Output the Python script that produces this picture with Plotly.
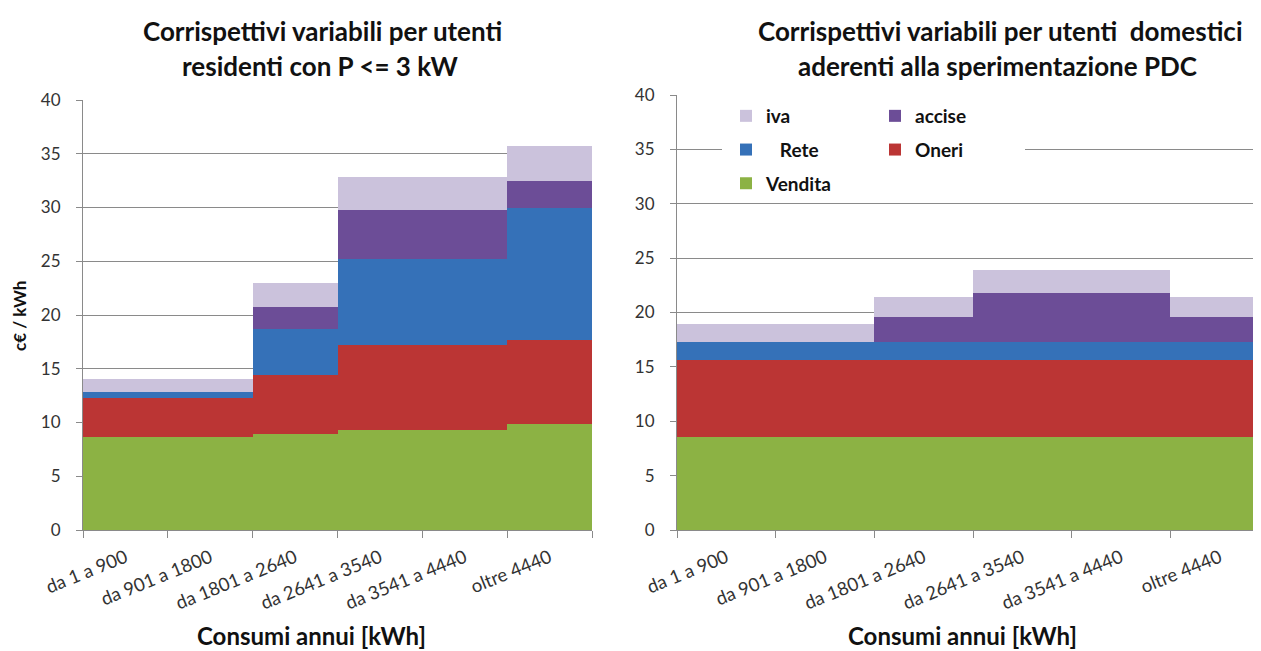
import plotly.graph_objects as go

categories = ["da 1 a 900", "da 901 a 1800", "da 1801 a 2640",
              "da 2641 a 3540", "da 3541 a 4440", "oltre 4440"]

# Left chart: residenti con P <= 3 kW  (c€/kWh)
left_vendita = [8.66, 8.66, 8.94, 9.34, 9.34, 9.83]
left_oneri   = [3.63, 3.63, 5.44, 7.83, 7.83, 7.80]
left_rete    = [0.55, 0.55, 4.28, 8.08, 8.08, 12.34]
left_accise  = [0.00, 0.00, 2.12, 4.53, 4.53, 2.49]
left_iva     = [1.22, 1.22, 2.22, 3.08, 3.08, 3.23]

# Right chart: sperimentazione PDC  (c€/kWh)
right_vendita = [8.57, 8.57, 8.57, 8.57, 8.57, 8.57]
right_oneri   = [7.10, 7.10, 7.10, 7.10, 7.10, 7.10]
right_rete    = [1.58, 1.58, 1.58, 1.58, 1.58, 1.58]
right_accise  = [0.00, 0.00, 2.31, 4.51, 4.51, 2.31]
right_iva     = [1.72, 1.72, 1.90, 2.18, 2.18, 1.90]

series_names = ["Vendita", "Oneri", "\u00a0\u00a0\u00a0Rete", "accise", "iva"]
series_colors = ["#8cb244", "#bb3534", "#3571b8", "#6c4d97", "#cbc2dc"]
series_legend = ["legend", "legend2", "legend", "legend2", "legend"]
series_rank = [3, 2, 2, 1, 1]

W, H = 1261, 651
OFF = 8  # page body margin offset of the rendered figure
FONT = "Lato, 'Open Sans', sans-serif"
GRID = "#8a8a8a"

fig = go.Figure()

left_vals = [left_vendita, left_oneri, left_rete, left_accise, left_iva]
right_vals = [right_vendita, right_oneri, right_rete, right_accise, right_iva]

for name, color, vals in zip(series_names, series_colors, left_vals):
    fig.add_trace(go.Bar(x=categories, y=vals, name=name, marker_color=color,
                         marker_line_width=0, showlegend=False,
                         xaxis="x", yaxis="y"))

for name, color, vals, lg, rk in zip(series_names, series_colors, right_vals,
                                     series_legend, series_rank):
    fig.add_trace(go.Bar(x=categories, y=vals, name=name, marker_color=color,
                         marker_line_width=0, showlegend=True, legend=lg,
                         legendgroup=name, legendrank=rk, xaxis="x2", yaxis="y2"))

def px_x(p):
    return (p - OFF) / W

def px_y(p):
    return (H - (p - OFF)) / H

xcommon = dict(type="category", categoryorder="array", categoryarray=categories,
               tickson="boundaries", ticks="outside", ticklen=7, tickcolor=GRID,
               showline=True, linecolor=GRID, linewidth=1, showgrid=False,
               automargin=False, range=[-0.5, 5.5], ticklabelstandoff=9,
               tickangle=-22, tickfont=dict(family=FONT, size=18.5, color="#333333"))
ycommon = dict(range=[0, 40], dtick=5, showgrid=True, gridcolor=GRID, gridwidth=1,
               showline=True, linecolor=GRID, linewidth=1, ticks="outside",
               ticklen=6, tickcolor=GRID, zeroline=False, ticklabelstandoff=12,
               automargin=False,
               tickfont=dict(family=FONT, size=17, color="#333333"))

LEGFONT = dict(family=FONT, size=19, color="#111111", weight="bold")
fig.update_layout(
    template="none",
    width=W, height=H, margin=dict(l=0, r=0, t=0, b=0, pad=0),
    paper_bgcolor="white", plot_bgcolor="white",
    barmode="stack", bargap=0,
    xaxis=dict(domain=[px_x(83), px_x(592)], anchor="y", **xcommon),
    yaxis=dict(domain=[px_y(530), px_y(100)], anchor="x", **ycommon),
    xaxis2=dict(domain=[px_x(677), px_x(1269)], anchor="y2", **xcommon),
    yaxis2=dict(domain=[px_y(530), px_y(95)], anchor="x2", **ycommon),
    legend=dict(x=px_x(726), y=px_y(97), xanchor="left", yanchor="top",
                traceorder="grouped", tracegroupgap=6,
                bgcolor="rgba(0,0,0,0)", borderwidth=0, font=LEGFONT),
    legend2=dict(x=px_x(875), y=px_y(97), xanchor="left", yanchor="top",
                 traceorder="grouped", tracegroupgap=6,
                 bgcolor="rgba(0,0,0,0)", borderwidth=0, font=LEGFONT),
    shapes=[dict(type="rect", xref="paper", yref="paper",
                 x0=px_x(722), x1=px_x(1025), y0=px_y(200), y1=px_y(100),
                 fillcolor="white", line=dict(width=0), layer="above")],
)

TFONT = "Lato, sans-serif"
annots = [
    ("Corrispettivi variabili per utenti", 322, 31),
    ("residenti con P <= 3 kW", 320, 66),
    ("Corrispettivi variabili per utenti  domestici", 1000, 31),
    ("aderenti alla sperimentazione PDC", 997, 66),
]
for text, x, y in annots:
    fig.add_annotation(text="<b>%s</b>" % text, x=px_x(x), y=px_y(y), xref="paper", yref="paper",
                       showarrow=False, xanchor="center", yanchor="middle",
                       font=dict(family=TFONT, size=26, color="#111111"))

fig.add_annotation(text="<b>Consumi annui [kWh]</b>", x=px_x(311), y=px_y(635),
                   xref="paper", yref="paper", showarrow=False,
                   xanchor="center", yanchor="middle",
                   font=dict(family=FONT, size=24, color="#111111"))
fig.add_annotation(text="<b>Consumi annui [kWh]</b>", x=px_x(962), y=px_y(635),
                   xref="paper", yref="paper", showarrow=False,
                   xanchor="center", yanchor="middle",
                   font=dict(family=FONT, size=24, color="#111111"))
fig.add_annotation(text="<b>c€ / kWh</b>", x=px_x(19), y=px_y(316), textangle=-90,
                   xref="paper", yref="paper", showarrow=False,
                   xanchor="center", yanchor="middle",
                   font=dict(family=FONT, size=17, color="#111111"))

fig.write_html("out.html")
